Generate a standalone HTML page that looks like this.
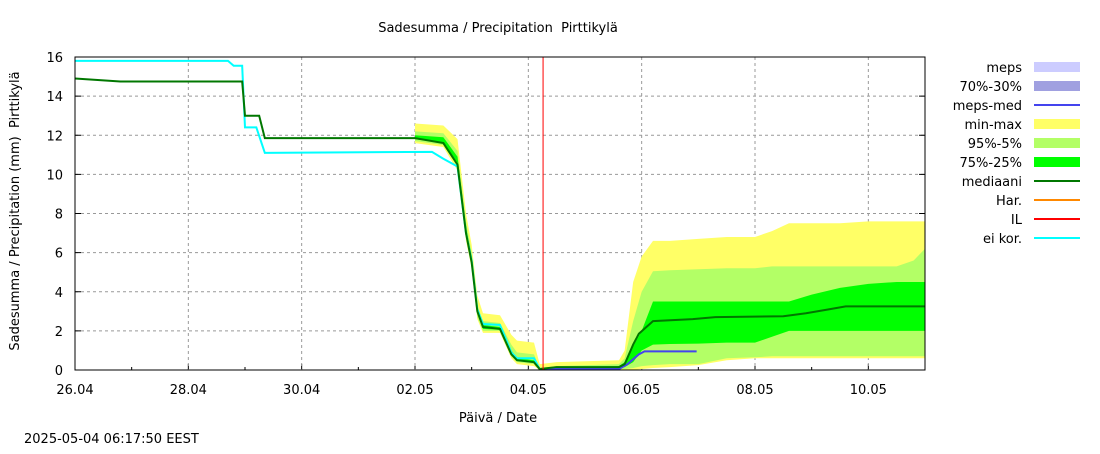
<!DOCTYPE html>
<html><head><meta charset="utf-8"><style>
body{margin:0;background:#fff;width:1100px;height:450px;overflow:hidden;font-family:"DejaVu Sans","Liberation Sans",sans-serif;}
svg text{font-family:"DejaVu Sans","Liberation Sans",sans-serif;font-size:13px;fill:#000;}
</style></head><body>
<svg id="chart" width="1100" height="450" xmlns="http://www.w3.org/2000/svg"></svg>
<script>
// x values are days since 26.04 00:00
const xTickLabels = ["26.04","28.04","30.04","02.05","04.05","06.05","08.05","10.05"];
const xTickDays = [0,2,4,6,8,10,12,14];
const yTicks = [0,2,4,6,8,10,12,14,16];
const bandX = [6,6.5,6.75,6.9,7,7.1,7.2,7.5,7.7,7.8,8.1,8.2,8.5,9.6,9.7,9.85,10.0,10.2,10.5,11.0,11.5,12.0,12.3,12.6,13.0,13.5,14.0,14.5,14.8,15];
const minmaxHi = [12.6,12.5,11.8,8,6.4,3.8,2.9,2.8,1.8,1.5,1.4,0.3,0.4,0.5,1.0,4.5,5.8,6.6,6.6,6.7,6.8,6.8,7.1,7.5,7.5,7.5,7.6,7.6,7.6,7.6];
const minmaxLo = [11.6,11.4,10.2,6.6,5.2,2.6,1.9,1.9,0.6,0.3,0.2,0,0,0,0,0,0.05,0.1,0.15,0.25,0.5,0.6,0.6,0.6,0.6,0.6,0.6,0.6,0.6,0.6];
const p95Hi = [12.2,12.1,11.2,7.6,6,3.3,2.5,2.4,1.3,0.9,0.8,0.1,0.2,0.3,0.6,2.5,4.0,5.05,5.1,5.15,5.2,5.2,5.3,5.3,5.3,5.3,5.3,5.3,5.6,6.2];
const p95Lo = [11.7,11.5,10.4,6.8,5.3,2.7,2,2,0.7,0.4,0.3,0,0,0.05,0.05,0.1,0.2,0.25,0.3,0.3,0.6,0.65,0.7,0.7,0.7,0.7,0.7,0.7,0.7,0.7];
const p75Hi = [12,11.9,10.9,7.3,5.8,3.1,2.3,2.2,1,0.6,0.5,0.05,0.15,0.2,0.4,1.2,2.0,3.5,3.5,3.5,3.5,3.5,3.5,3.5,3.85,4.2,4.4,4.5,4.5,4.5];
const p75Lo = [11.8,11.6,10.6,7,5.5,2.9,2.1,2.05,0.8,0.5,0.4,0,0.05,0.1,0.15,0.4,1.0,1.3,1.33,1.35,1.4,1.4,1.7,2.0,2,2,2,2,2,2];
const medX = [0,0.8,2.95,3.0,3.25,3.35,6.0,6.5,6.75,6.9,7.0,7.1,7.2,7.5,7.7,7.8,8.1,8.2,8.5,9.6,9.7,9.85,9.95,10.2,10.9,11.3,12.5,12.9,13.3,13.6,15];
const medY = [14.9,14.75,14.75,13.0,13.0,11.85,11.85,11.6,10.5,7.0,5.5,3.0,2.2,2.1,0.8,0.5,0.4,0.05,0.15,0.15,0.3,1.3,1.85,2.5,2.6,2.7,2.75,2.9,3.1,3.25,3.25];
const cyanX = [0,2.7,2.8,2.95,3.0,3.2,3.35,6.3,6.5,6.75,6.9,7.0,7.1,7.2,7.5,7.7,7.8,8.1,8.2];
const cyanY = [15.8,15.8,15.55,15.55,12.4,12.4,11.1,11.15,10.8,10.4,7.0,5.6,3.1,2.35,2.3,0.9,0.6,0.6,0.05];
const mepsX = [8.2,9.6,9.75,9.85,9.95,10.05,10.97];
const mepsY = [0.05,0.05,0.3,0.55,0.8,0.95,0.95];
const nowDay = 8.26;

const L=75,R=925,T=57,B=370;
const xs=d=>L+d*(R-L)/15;
const ys=v=>B-v*(B-T)/16;
const svg=document.getElementById('chart');
const NS='http://www.w3.org/2000/svg';
function mk(tag,attrs,parent){const e=document.createElementNS(NS,tag);for(const k in attrs)e.setAttribute(k,attrs[k]);(parent||svg).appendChild(e);return e;}

yTicks.forEach((v,i)=>{
  if(v>0&&v<16){const g=mk('line',{x1:L,x2:R,y1:ys(v),y2:ys(v),stroke:'#999','stroke-dasharray':'3,3'});
  
  }
  const t=mk('text',{x:L-12,y:ys(v)+5,'text-anchor':'end'});t.textContent=v;
  
  
  mk('line',{x1:L,x2:L+6,y1:ys(v),y2:ys(v),stroke:'#000'});
  mk('line',{x1:R,x2:R-6,y1:ys(v),y2:ys(v),stroke:'#000'});
});
for(let d=0;d<=15;d++){
  mk('line',{x1:xs(d),x2:xs(d),y1:B,y2:B-(d%2==0?6:3),stroke:'#000'});
}
xTickDays.forEach((d,i)=>{
  if(d>0){const g=mk('line',{x1:xs(d),x2:xs(d),y1:T,y2:B,stroke:'#999','stroke-dasharray':'3,3'});
  
  }
  const t=mk('text',{x:xs(d),y:B+24,'text-anchor':'middle'});t.textContent=xTickLabels[i];
  
  
});

function band(hi,lo,color,name){
  let p='M'+bandX.map((d,i)=>xs(d)+','+ys(hi[i])).join(' L');
  for(let i=bandX.length-1;i>=0;i--)p+=' L'+xs(bandX[i])+','+ys(lo[i]);
  const e=mk('path',{d:p+'Z',fill:color,stroke:'none'});
  
  
}
band(minmaxHi,minmaxLo,'#ffff66','band-min-max');
band(p95Hi,p95Lo,'#b3ff66','band-95-5');
band(p75Hi,p75Lo,'#00ff00','band-75-25');

function line(X,Y,color,w,name){
  const e=mk('polyline',{points:X.map((d,i)=>xs(d)+','+ys(Y[i])).join(' '),fill:'none',stroke:color,'stroke-width':w});
  
  
}
line(cyanX,cyanY,'#00ffff',2,'line-ei-kor');
line(mepsX,mepsY,'#4444ee',2,'line-meps-med');
line(medX,medY,'#007700',2,'line-mediaani');
const nl=mk('line',{x1:xs(nowDay),x2:xs(nowDay),y1:T,y2:B,stroke:'#ff0000','stroke-width':1});



const fr=mk('rect',{x:L,y:T,width:R-L,height:B-T,fill:'none',stroke:'#000','stroke-width':1});



let t=mk('text',{x:498,y:32,'text-anchor':'middle'});t.textContent='Sadesumma / Precipitation\u00a0\u00a0Pirttikylä';


t=mk('text',{x:498,y:422,'text-anchor':'middle'});t.textContent='Päivä / Date';


t=mk('text',{x:0,y:0,'text-anchor':'middle',transform:'translate(19,211) rotate(-90)'});t.textContent='Sadesumma / Precipitation (mm)\u00a0\u00a0Pirttikylä';


t=mk('text',{x:24,y:443});t.textContent='2025-05-04 06:17:50 EEST';



const legLabels=['meps','70%-30%','meps-med','min-max','95%-5%','75%-25%','mediaani','Har.','IL','ei kor.'];
const legColors=['#ccccff','#a0a0e0','#4444ee','#ffff66','#b3ff66','#00ff00','#007700','#ff8800','#ff0000','#00ffff'];
const legThick=[1,1,0,1,1,1,0,0,0,0];
legLabels.forEach((s,i)=>{
  const y=67+i*19;
  const g=mk('g',{});
  
  
  const tx=mk('text',{x:1022,y:y+5,'text-anchor':'end'},g);tx.textContent=s;
  if(legThick[i])mk('rect',{x:1034,y:y-5,width:46,height:10,fill:legColors[i]},g);
  else mk('line',{x1:1034,x2:1080,y1:y,y2:y,stroke:legColors[i],'stroke-width':2},g);
});
</script>
</body></html>
